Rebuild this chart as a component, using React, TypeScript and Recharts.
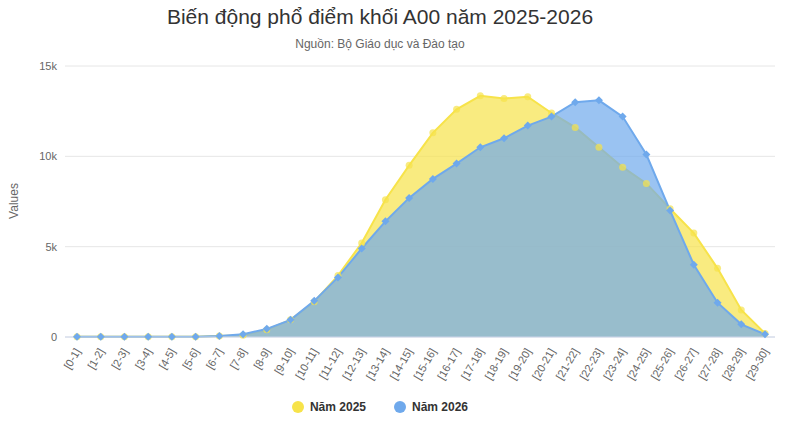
import React from 'react';
import { AreaChart, Area, XAxis, YAxis, CartesianGrid } from 'recharts';

const categories = Array.from({ length: 30 }, (_, i) => `[${i}-${i + 1}]`);
const y2025 = [10, 10, 10, 10, 10, 20, 50, 100, 400, 950, 1950, 3400, 5200, 7600, 9500, 11300, 12600, 13350, 13200, 13300, 12400, 11600, 10500, 9400, 8500, 7100, 5750, 3800, 1500, 200];
const y2026 = [10, 10, 10, 10, 10, 20, 50, 150, 450, 950, 2000, 3300, 4900, 6400, 7700, 8750, 9600, 10500, 11000, 11700, 12200, 13000, 13100, 12200, 10100, 7000, 4000, 1900, 700, 150];
const yTicks = [0, 5000, 10000, 15000];

const data = categories.map((name, i) => ({ name, a: y2025[i], b: y2026[i] }));

const YELLOW = '#f7e34a';
const BLUE = '#6fa9ec';

const Tick = (props: any) => {
  const { x, y, payload } = props;
  return (
    <text x={x + 4} y={y + 6} transform={`rotate(-60 ${x + 4} ${y + 6})`} textAnchor="end" fontSize={11} fill="#666">
      {payload.value}
    </text>
  );
};

const Diamond = (props: any) => {
  const { cx, cy } = props;
  if (cx == null || cy == null) return null;
  return <path d={`M${cx},${cy - 4}L${cx + 4},${cy}L${cx},${cy + 4}L${cx - 4},${cy}Z`} fill={BLUE} />;
};

export default function App() {
  document.body.style.margin = '0';
  const font = 'Arial, "Liberation Sans", sans-serif';
  return (
    <div style={{ position: 'relative', width: 800, height: 422, background: '#fff', fontFamily: font }}>
      <div style={{ position: 'absolute', top: 5, width: 760, textAlign: 'center', fontSize: 21, color: '#333' }}>
        Biến động phổ điểm khối A00 năm 2025-2026
      </div>
      <div style={{ position: 'absolute', top: 37, width: 760, textAlign: 'center', fontSize: 12, color: '#666' }}>
        Nguồn: Bộ Giáo dục và Đào tạo
      </div>
      <div style={{ position: 'absolute', left: 14, top: 201, transform: 'translate(-50%,-50%) rotate(-90deg)', fontSize: 12, color: '#666' }}>
        Values
      </div>
      <AreaChart width={800} height={422} data={data} margin={{ top: 66, right: 25, left: 15, bottom: 30 }} style={{ fontFamily: font }}>
        <CartesianGrid vertical={false} stroke="#e6e6e6" />
        <XAxis dataKey="name" interval={0} tick={<Tick />} height={55} padding={{ left: 12, right: 10 }} stroke="#ccd6eb" tickLine={false} />
        <YAxis ticks={yTicks} domain={[0, 15000]} width={50} axisLine={false} tickLine={false}
          tickFormatter={(v) => (v === 0 ? '0' : `${v / 1000}k`)} tick={{ fontSize: 11, fill: '#666' }} />
        <Area type="linear" dataKey="a" stroke={YELLOW} strokeWidth={2} fill={YELLOW} fillOpacity={0.7}
          dot={{ r: 3.5, fill: YELLOW, stroke: 'none' }} isAnimationActive={false} />
        <Area type="linear" dataKey="b" stroke={BLUE} strokeWidth={2} fill={BLUE} fillOpacity={0.7}
          dot={<Diamond />} isAnimationActive={false} />
      </AreaChart>
      <div style={{ position: 'absolute', top: 400, width: 760, display: 'flex', justifyContent: 'center', gap: 28, fontSize: 12, fontWeight: 'bold', color: '#333' }}>
        <span><span style={{ display: 'inline-block', width: 12, height: 12, borderRadius: 6, background: YELLOW, marginRight: 6, verticalAlign: -2 }} />Năm 2025</span>
        <span><span style={{ display: 'inline-block', width: 12, height: 12, borderRadius: 6, background: BLUE, marginRight: 6, verticalAlign: -2 }} />Năm 2026</span>
      </div>
    </div>
  );
}
